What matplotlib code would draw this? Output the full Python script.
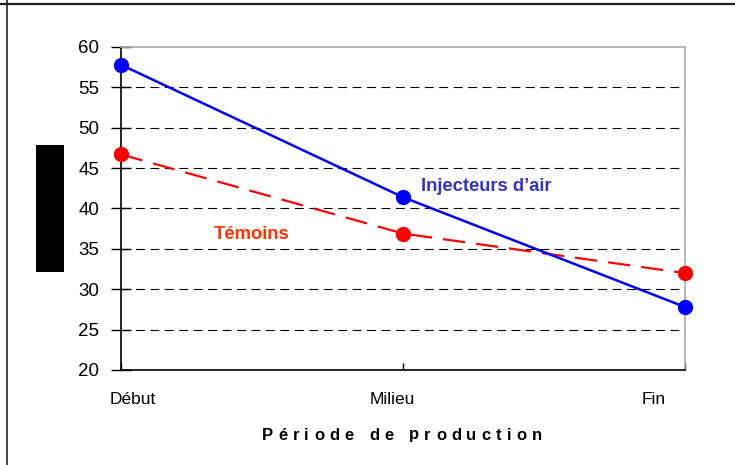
import matplotlib
matplotlib.use("Agg")
import matplotlib.pyplot as plt
import matplotlib.transforms as mtrans
from matplotlib.patches import Rectangle
from matplotlib.lines import Line2D

categories = ["Début", "Milieu", "Fin"]
injecteurs = [57.8, 41.4, 27.8]
temoins = [46.7, 36.9, 32.0]
yticks = [20, 25, 30, 35, 40, 45, 50, 55, 60]
xlabel = "Période de production"

plt.rcParams['font.family'] = ['Liberation Sans', 'DejaVu Sans']

W, H = 735, 465
fig = plt.figure(figsize=(W / 100, H / 100), dpi=100)
ax = fig.add_axes([121 / W, 1 - 370 / H, (685 - 121) / W, (370 - 47) / H])

x = list(range(len(categories)))
ax.set_xlim(0, 2)
ax.set_ylim(20, 60)

for yv in yticks[1:-1]:
    ax.axhline(yv, color="black", lw=0.8, ls=(0, (8, 5)), zorder=1)

ax.plot(x, temoins, color="#FF0000", lw=1.6, ls=(0, (10, 5)), marker="o",
        markersize=10, clip_on=False, zorder=3)
ax.plot(x, injecteurs, color="#0000FF", lw=1.8, marker="o",
        markersize=10, clip_on=False, zorder=4)

ident = mtrans.IdentityTransform()
ax.text(421, H - 186, "Injecteurs d’air", color="#3333CC", fontsize=13.2,
        fontweight="bold", va="center", ha="left", transform=ident)
ax.text(214, H - 234, "Témoins", color="#FF3300", fontsize=13.2,
        fontweight="bold", va="center", ha="left", transform=ident)

ax.set_yticks(yticks)
ax.set_yticklabels([str(v) for v in yticks], fontsize=13.5)
ax.set_xticks(x)
ax.set_xticklabels(categories, fontsize=12.5)
ax.tick_params(axis="y", direction="inout", length=15, width=1, pad=8)
ax.tick_params(axis="x", direction="in", length=5, width=1, pad=16)

# Excel-style category label placement (inset from tick marks)
offsets_px = [12, -11, -31]
for lab, off in zip(ax.get_xticklabels(), offsets_px):
    lab.set_transform(lab.get_transform() +
                      mtrans.ScaledTranslation(off / 100, 0, fig.dpi_scale_trans))

for s in ["top", "right"]:
    ax.spines[s].set_color("#aaaaaa")
    ax.spines[s].set_linewidth(1.2)
for s in ["left", "bottom"]:
    ax.spines[s].set_color("black")
    ax.spines[s].set_linewidth(1.2)

# figure border (top and left)
fig.add_artist(Line2D([0, 1], [1 - 4.5 / H, 1 - 4.5 / H], color="#222222",
                      lw=1.6, transform=fig.transFigure))
fig.add_artist(Line2D([7 / W, 7 / W], [0, 1], color="#222222",
                      lw=1.2, transform=fig.transFigure))

# masked y label
fig.add_artist(Rectangle((36 / W, 1 - 272 / H), 28 / W, 127 / H,
                         facecolor="black", edgecolor="none",
                         transform=fig.transFigure))

# letter-spaced x-axis title
fig.canvas.draw()
renderer = fig.canvas.get_renderer()
fs_title = 12
widths = []
for ch in xlabel:
    t = fig.text(0, 0, ch if ch != " " else "n", fontsize=fs_title,
                 fontweight="bold")
    w = t.get_window_extent(renderer).width
    if ch == " ":
        w *= 0.5
    widths.append(w)
    t.remove()
target_width = 280
track = (target_width - sum(widths)) / (len(xlabel) - 1)
xpos = 402 - target_width / 2
for ch, w in zip(xlabel, widths):
    if ch != " ":
        fig.text(xpos / W, 1 - 435 / H, ch, fontsize=fs_title,
                 fontweight="bold", va="center", ha="left")
    xpos += w + track

fig.savefig("out.png", dpi=100)
